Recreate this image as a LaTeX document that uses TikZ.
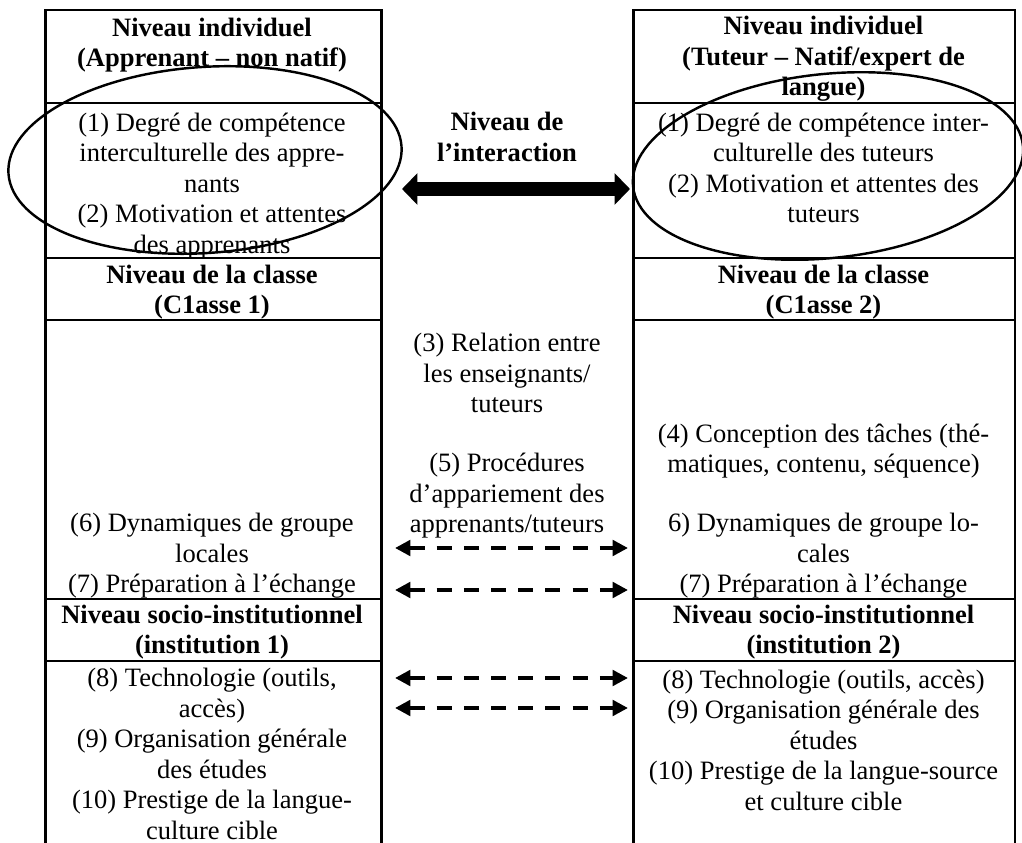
\documentclass[tikz,border=0pt]{standalone}
\usepackage{fontspec}
\setmainfont{Liberation Serif}
\usetikzlibrary{arrows.meta}

\begin{document}
\begin{tikzpicture}[x=0.4525pt, y=-0.4525pt,
        tab/.style={line width=1.15pt},
        txt/.style={align=center, inner sep=0pt, font=\fontsize{12}{13.8}\selectfont},
        titre/.style={align=center, inner sep=0pt, font=\fontsize{12}{13.8}\selectfont\bfseries},
        bulle/.style={line width=1.1pt},
        echange/.style={line width=1.8pt, dash pattern=on 6.8pt off 5.5pt,
            {Triangle[length=7pt,width=7pt]}-{Triangle[length=7pt,width=7pt]}},
        interaction/.style={line width=6.3pt,
            {Triangle[length=7pt,width=14pt]}-{Triangle[length=7pt,width=14pt]}}]
    \useasboundingbox (0,0) rectangle (1022,843);
    % les deux colonnes
    \draw[tab] (45.5,843) -- (45.5,10) -- (381.5,10) -- (381.5,843);
    \draw[tab] (633.5,843) -- (633.5,10) -- (1015,10) -- (1015,843);
    \foreach \y in {103,258,320,599,661} {
        \draw[tab] (45.5,\y) -- (381.5,\y);
        \draw[tab] (633.5,\y) -- (1015,\y);
    }
    % colonne apprenant
    \node[titre] (indivL) at (212,45) {Niveau individuel\\(Apprenant -- non natif)};
    \node[txt] (compL) at (212,186) {(1) Degré de compétence\\interculturelle des appre-\\nants\\(2) Motivation et attentes\\des apprenants};
    \node[titre] (classeL) at (212,292) {Niveau de la classe\\(C1asse 1)};
    \node[txt] (dynL) at (212,556) {(6) Dynamiques de groupe\\locales\\(7) Préparation à l’échange};
    \node[titre] (instL) at (212,632) {Niveau socio-institutionnel\\(institution 1)};
    \node[txt] (techL) at (212,754) {(8) Technologie (outils,\\accès)\\(9) Organisation générale\\des études\\(10) Prestige de la langue-\\culture cible};
    % colonne tuteur
    \node[titre] (indivR) at (823.5,59) {Niveau individuel\\(Tuteur -- Natif/expert de\\langue)};
    \node[txt] (compR) at (823.5,168) {(1) Degré de compétence inter-\\culturelle des tuteurs\\(2) Motivation et attentes des\\tuteurs};
    \node[titre] (classeR) at (823.5,292) {Niveau de la classe\\(C1asse 2)};
    \node[txt] (tachesR) at (823.5,451) {(4) Conception des tâches (thé-\\matiques, contenu, séquence)};
    \node[txt] (dynR) at (823.5,556) {6) Dynamiques de groupe lo-\\cales\\(7) Préparation à l’échange};
    \node[titre] (instR) at (823.5,632) {Niveau socio-institutionnel\\(institution 2)};
    \node[txt] (techR) at (823.5,740) {(8) Technologie (outils, accès)\\(9) Organisation générale des\\études\\(10) Prestige de la langue-source\\et culture cible};
    % milieu
    \node[titre] (interM) at (507,137) {Niveau de\\l’interaction};
    \node[txt] (relM) at (507,373) {(3) Relation entre\\les enseignants/\\tuteurs};
    \node[txt] (appM) at (507,496) {(5) Procédures\\d’appariement des\\apprenants/tuteurs};
    % ellipses et fleches
    \draw[bulle, rotate around={4:(205,160)}] (205,160) ellipse [x radius=197, y radius=93];
    \draw[bulle, rotate around={6:(828,166)}] (828,166) ellipse [x radius=196, y radius=92];
    \coordinate (bulleL) at (402,189);
    \coordinate (bulleR) at (630,189);
    \draw[interaction] (bulleL) -- (bulleR);
    \foreach \y/\n in {548/a,590/b,678/c,708/d} {
        \coordinate (gauche\n) at (395,\y);
        \coordinate (droite\n) at (628,\y);
        \draw[echange] (gauche\n) -- (droite\n);
    }
\end{tikzpicture}
\end{document}
